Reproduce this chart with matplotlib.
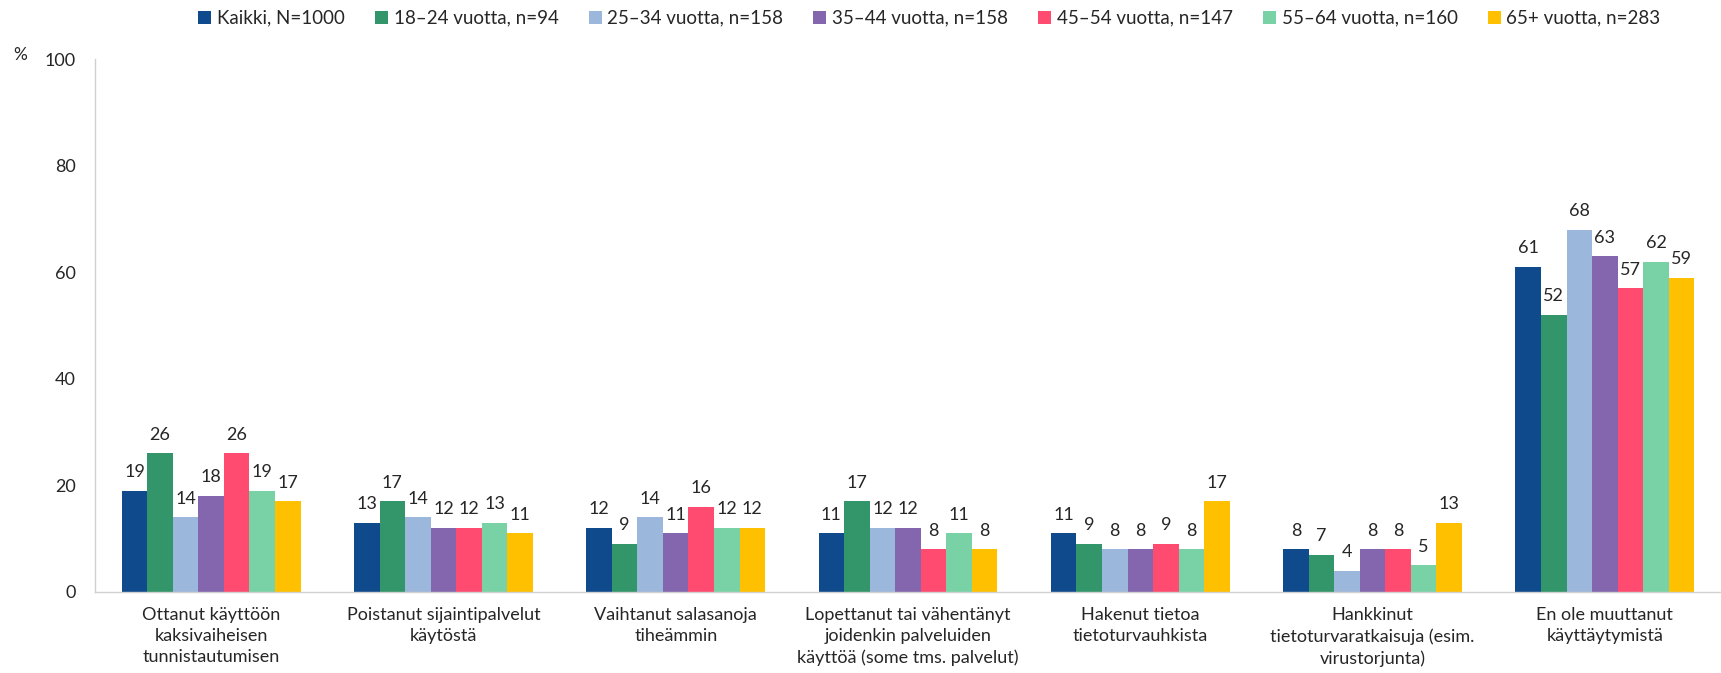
import matplotlib
matplotlib.use("Agg")
import matplotlib.pyplot as plt
import numpy as np

categories = [
    "Ottanut käyttöön\nkaksivaiheisen\ntunnistautumisen",
    "Poistanut sijaintipalvelut\nkäytöstä",
    "Vaihtanut salasanoja\ntiheämmin",
    "Lopettanut tai vähentänyt\njoidenkin palveluiden\nkäyttöä (some tms. palvelut)",
    "Hakenut tietoa\ntietoturvauhkista",
    "Hankkinut\ntietoturvaratkaisuja (esim.\nvirustorjunta)",
    "En ole muuttanut\nkäyttäytymistä",
]
series_names = [
    "Kaikki, N=1000",
    "18–24 vuotta, n=94",
    "25–34 vuotta, n=158",
    "35–44 vuotta, n=158",
    "45–54 vuotta, n=147",
    "55–64 vuotta, n=160",
    "65+ vuotta, n=283",
]
kaikki = [19, 13, 12, 11, 11, 8, 61]
v18_24 = [26, 17, 9, 17, 9, 7, 52]
v25_34 = [14, 14, 14, 12, 8, 4, 68]
v35_44 = [18, 12, 11, 12, 8, 8, 63]
v45_54 = [26, 12, 16, 8, 9, 8, 57]
v55_64 = [19, 13, 12, 11, 8, 5, 62]
v65 = [17, 11, 12, 8, 17, 13, 59]
series = [kaikki, v18_24, v25_34, v35_44, v45_54, v55_64, v65]
colors = ["#0E4A8C", "#33956A", "#9BB7DB", "#8466AE", "#FF4B6F", "#79D2A6", "#FFC000"]
yticks = [0, 20, 40, 60, 80, 100]

plt.rcParams['font.family'] = ['Lato', 'DejaVu Sans']

fig = plt.figure(figsize=(17.21, 6.73), dpi=100)
ax = fig.add_axes([0.0552, 0.1204, 0.9448, 0.7919])

x = np.arange(len(categories))
w = 0.11
n = len(series)
for i, (vals, c, name) in enumerate(zip(series, colors, series_names)):
    pos = x + (i - (n - 1) / 2) * w
    ax.bar(pos, vals, width=w, color=c, label=name, linewidth=0)
    for xb, v in zip(pos, vals):
        ax.text(xb, v + 2.0, str(v), ha='center', va='bottom', fontsize=13, color='#262626')

ax.set_xlim(-0.5, len(categories) - 0.5)
ax.set_ylim(0, 100)
ax.set_yticks(yticks)
ax.set_yticklabels([str(t) for t in yticks], fontsize=13, color='#262626')
ax.set_xticks(x)
ax.set_xticklabels(categories, fontsize=13, color='#262626', linespacing=1.38, va='top')
ax.tick_params(axis='both', length=0)
ax.tick_params(axis='x', pad=11)
ax.tick_params(axis='y', pad=14)
for s in ['top', 'right']:
    ax.spines[s].set_visible(False)
for s in ['left', 'bottom']:
    ax.spines[s].set_color('#D0D0D0')
    ax.spines[s].set_linewidth(1.0)

fig.text(0.0076, 0.918, "%", fontsize=12.5, color='#262626', ha='left', va='center')

fig.legend(loc='center', bbox_to_anchor=(0.54, 0.973), ncol=7, frameon=False,
           fontsize=13.5, handlelength=0.7, handleheight=0.7, handletextpad=0.3,
           columnspacing=1.6, labelcolor='#262626')

fig.savefig("out.png", dpi=100)
